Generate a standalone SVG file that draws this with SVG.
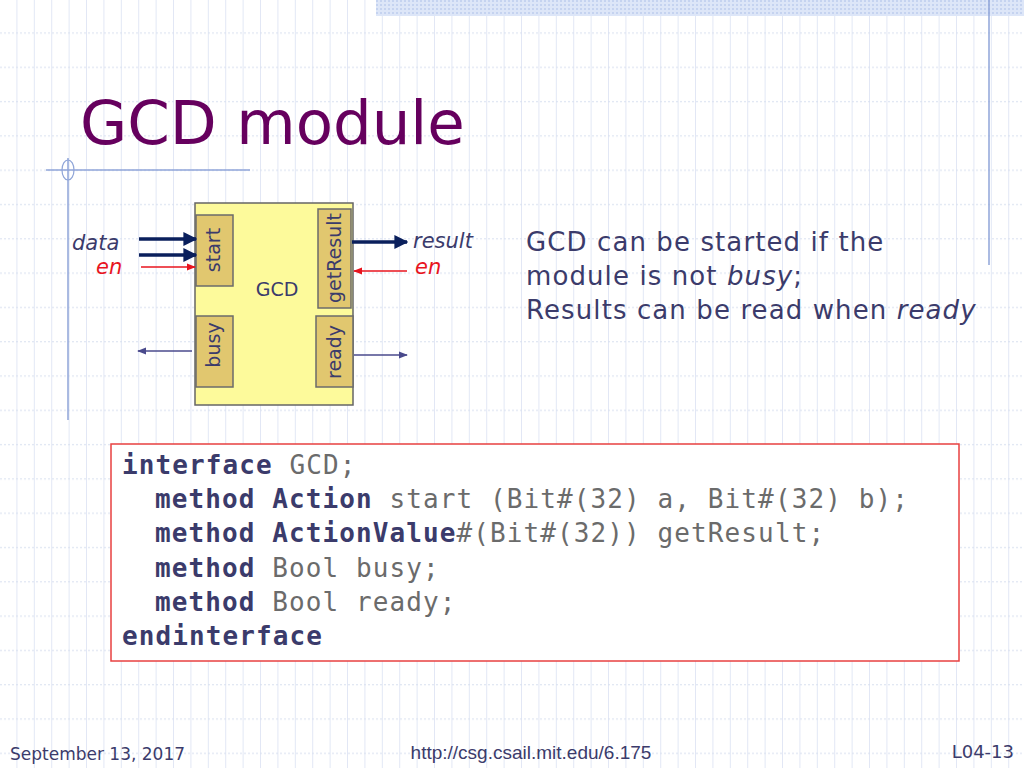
<svg xmlns="http://www.w3.org/2000/svg" width="1024" height="768" viewBox="0 0 1024 768">
<defs>
<pattern id="gv" width="17.4" height="768" patternUnits="userSpaceOnUse" x="0"><line x1="17" y1="0" x2="17" y2="768" stroke="#dfe6f5" stroke-width="1"/></pattern>
<pattern id="gh" width="1024" height="34.3" patternUnits="userSpaceOnUse" y="0"><line x1="0" y1="33" x2="1024" y2="33" stroke="#d8e0f0" stroke-width="1" stroke-dasharray="2,2"/></pattern>
<pattern id="dots" width="4" height="4" patternUnits="userSpaceOnUse"><rect width="4" height="4" fill="#dde6f8"/><rect width="2" height="2" fill="#c5d3f0"/></pattern>
<marker id="ab" viewBox="0 0 10 10" refX="9" refY="5" markerWidth="4" markerHeight="4" orient="auto"><path d="M0,0L10,5L0,10z" fill="#0a1f5c"/></marker>
<marker id="ar" viewBox="0 0 10 10" refX="9" refY="5" markerWidth="7" markerHeight="7" orient="auto"><path d="M0,1L10,5L0,9z" fill="#e8141e"/></marker>
<marker id="ap" viewBox="0 0 10 10" refX="9" refY="5" markerWidth="7" markerHeight="7" orient="auto"><path d="M0,1L10,5L0,9z" fill="#4a4a8c"/></marker>
</defs>
<style>
.port{fill:#e1c76f;stroke:#6b6b6b;stroke-width:1.5}
.pl{font-family:"DejaVu Sans",sans-serif;font-size:19px;fill:#3b3b6b}
.code{font-family:"DejaVu Sans Mono","Liberation Mono",monospace;font-size:26px;letter-spacing:1.1px;fill:#6b6b6b}
.kw{font-weight:bold;fill:#3b3b6b}
.it{font-family:"DejaVu Sans",sans-serif;font-style:italic;font-size:21px}
</style>
<rect width="1024" height="768" fill="#ffffff"/>
<rect width="1024" height="768" fill="url(#gv)"/>
<rect width="1024" height="768" fill="url(#gh)"/>
<rect x="376" y="0" width="648" height="16" fill="url(#dots)"/>
<line x1="989" y1="0" x2="989" y2="265" stroke="#8fa5d8" stroke-width="1.5"/>
<line x1="46" y1="170" x2="250" y2="170" stroke="#8fa5d8" stroke-width="1.5"/>
<line x1="68" y1="158" x2="68" y2="420" stroke="#8fa5d8" stroke-width="1.5"/>
<ellipse cx="68" cy="170" rx="6" ry="10" fill="none" stroke="#8fa5d8" stroke-width="1.2"/>
<text x="80" y="144" font-family="DejaVu Sans,sans-serif" font-size="61" fill="#66005e">GCD module</text>

<g id="gcd">
<rect x="195" y="203" width="158" height="202" fill="#fdfa9b" stroke="#666" stroke-width="1.5"/>
<text x="277" y="296" text-anchor="middle" class="pl" font-size="18">GCD</text>
</g>
<g id="start"><rect class="port" x="196" y="215" width="37" height="71"/><text class="pl" transform="translate(220,250) rotate(-90)" text-anchor="middle">start</text></g>
<g id="getResult"><rect class="port" x="318" y="209" width="33" height="99"/><text class="pl" transform="translate(341,258) rotate(-90)" text-anchor="middle">getResult</text></g>
<g id="busy"><rect class="port" x="196" y="316" width="37" height="71"/><text class="pl" transform="translate(220,345) rotate(-90)" text-anchor="middle">busy</text></g>
<g id="ready"><rect class="port" x="316" y="316" width="37" height="71"/><text class="pl" transform="translate(341,352) rotate(-90)" text-anchor="middle">ready</text></g>

<g id="connectors">
<line x1="139" y1="239" x2="196" y2="239" stroke="#0a1f5c" stroke-width="3.5" marker-end="url(#ab)"/>
<line x1="139" y1="255" x2="196" y2="255" stroke="#0a1f5c" stroke-width="3.5" marker-end="url(#ab)"/>
<line x1="141" y1="267" x2="195" y2="267" stroke="#e8141e" stroke-width="1.3" marker-end="url(#ar)"/>
<line x1="352" y1="242" x2="407" y2="242" stroke="#0a1f5c" stroke-width="3.5" marker-end="url(#ab)"/>
<line x1="407" y1="271" x2="354" y2="271" stroke="#e8141e" stroke-width="1.3" marker-end="url(#ar)"/>
<line x1="192" y1="351" x2="138" y2="351" stroke="#4a4a8c" stroke-width="1.3" marker-end="url(#ap)"/>
<line x1="354" y1="355" x2="407" y2="355" stroke="#4a4a8c" stroke-width="1.3" marker-end="url(#ap)"/>
</g>
<text x="72" y="250" class="it" fill="#3b3b6b">data</text>
<text x="96" y="274" class="it" fill="#e8141e">en</text>
<text x="413" y="248" class="it" fill="#3b3b6b">result</text>
<text x="415" y="274" class="it" fill="#e8141e">en</text>

<g font-family="Verdana,'DejaVu Sans',sans-serif" font-size="26" letter-spacing="1.1" fill="#3b3b6b">
<text x="526" y="251">GCD can be started if the</text>
<text x="526" y="285">module is not <tspan font-style="italic">busy</tspan>;</text>
<text x="526" y="319">Results can be read when <tspan font-style="italic">ready</tspan></text>
</g>

<rect x="111" y="444" width="848" height="217" fill="#ffffff" stroke="#e84040" stroke-width="1.5"/>
<g class="code">
<text x="122" y="474"><tspan class="kw">interface</tspan> GCD;</text>
<text x="155" y="508"><tspan class="kw">method Action</tspan> start (Bit#(32) a, Bit#(32) b);</text>
<text x="155" y="542"><tspan class="kw">method ActionValue</tspan>#(Bit#(32)) getResult;</text>
<text x="155" y="577"><tspan class="kw">method</tspan> Bool busy;</text>
<text x="155" y="611"><tspan class="kw">method</tspan> Bool ready;</text>
<text x="122" y="645" class="kw">endinterface</text>
</g>

<text x="10" y="760" font-family="DejaVu Sans,sans-serif" font-size="17" fill="#3b3b6b">September 13, 2017</text>
<text x="531" y="759" text-anchor="middle" font-family="Liberation Sans,sans-serif" font-size="19" fill="#3b3b6b">http://csg.csail.mit.edu/6.175</text>
<text x="1014" y="758" text-anchor="end" font-family="DejaVu Sans,sans-serif" font-size="18" fill="#3b3b6b">L04-13</text>
</svg>
